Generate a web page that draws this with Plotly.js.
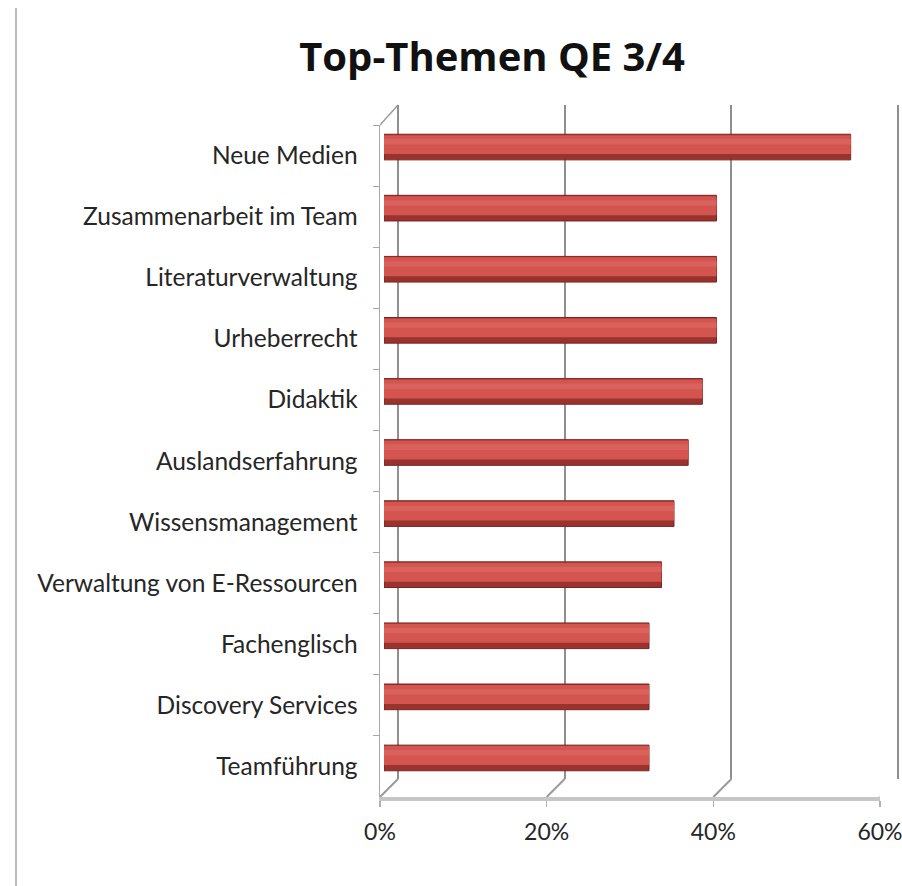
<!DOCTYPE html>
<html>
<head>
<meta charset="utf-8">
<script src="https://cdn.plot.ly/plotly-3.0.1.min.js"></script>
<style>
  html, body { margin: 0; padding: 0; background: #ffffff; }
  #wrap { position: relative; width: 902px; height: 886px; }
  #chart { position: absolute; left: 0; top: 0; width: 902px; height: 886px; }
  #border { position: absolute; left: 15px; top: 8px; width: 2px; height: 878px; background: #bdbdbd; }
</style>
</head>
<body>
<div id="wrap">
  <div id="chart"></div>
  <div id="border"></div>
</div>
<script>
// ---- data ----
const categories = [
  "Neue Medien",
  "Zusammenarbeit im Team",
  "Literaturverwaltung",
  "Urheberrecht",
  "Didaktik",
  "Auslandserfahrung",
  "Wissensmanagement",
  "Verwaltung von E-Ressourcen",
  "Fachenglisch",
  "Discovery Services",
  "Teamführung"
];
const shares = [56.0, 39.9, 39.9, 39.9, 38.2, 36.5, 34.8, 33.3, 31.8, 31.8, 31.8];
const tickValues = [0, 20, 40, 60];
const tickLabels = ["0%", "20%", "40%", "60%"];
const chartTitle = "Top-Themen QE 3/4";

// ---- geometry (pixels) ----
const W = 902, H = 886;
const mL = 380, mR = 0, mT = 105, mB = 89;
const plotW = W - mL - mR;   // 522
const plotH = H - mT - mB;   // 692
const depthX = 18, depthY = 18;
const frontW = 500;
const frontH = 672;
const pxPerUnit = frontW / 60;
const backPad = 0.5;         // range padding of the back wall, in axis units

const textFont = { family: "Lato, 'Open Sans', sans-serif", size: 24.5, color: "#262626" };

const barBase = {
  type: "bar", orientation: "h", x: shares, y: categories,
  hoverinfo: "skip", showlegend: false
};

const traces = [
  // invisible carriers so the front and back axes know their categories
  Object.assign({}, barBase, { xaxis: "x", yaxis: "y", width: 0.4,
    marker: { color: "rgba(0,0,0,0)", line: { width: 0 } } }),
  Object.assign({}, barBase, { xaxis: "x2", yaxis: "y2", width: 0.4,
    marker: { color: "rgba(0,0,0,0)", line: { width: 0 } } }),
  // cylinder-like bars
  Object.assign({}, barBase, { xaxis: "x3", yaxis: "y3",
    width: 0.42,
    marker: { color: "#9a322e", line: { color: "#7a2422", width: 1 } }
  }),
  Object.assign({}, barBase, { xaxis: "x3", yaxis: "y3",
    width: 0.31, offset: -0.195,
    marker: { color: "#d4554f", line: { width: 0 } }
  }),
  Object.assign({}, barBase, { xaxis: "x3", yaxis: "y3",
    width: 0.09, offset: -0.13,
    marker: { color: "#da625d", line: { width: 0 } }
  })
];

// perspective connectors between the front floor ticks and the back wall gridlines
const shapes = tickValues.map(v => ({
  type: "line", layer: "below",
  xref: "x", xsizemode: "pixel", xanchor: v, x0: 0, x1: depthX,
  yref: "paper", ysizemode: "pixel", yanchor: 0, y0: 0, y1: depthY,
  line: { color: "#9a9a9a", width: 2 }
}));
shapes.push({
  type: "line", layer: "below",
  xref: "x", xsizemode: "pixel", xanchor: 0, x0: 0, x1: depthX,
  yref: "paper", ysizemode: "pixel", yanchor: 1, y0: -(plotH - frontH), y1: 0,
  line: { color: "#9a9a9a", width: 1.5 }
});

const backLeft = depthX - backPad * pxPerUnit;

const layout = {
  width: W, height: H,
  margin: { l: mL, r: mR, t: mT, b: mB, pad: 0 },
  paper_bgcolor: "#ffffff",
  plot_bgcolor: "rgba(0,0,0,0)",
  showlegend: false,
  barmode: "overlay",
  title: {
    text: "<b>" + chartTitle + "</b>",
    font: { family: "'Open Sans', Lato, sans-serif", size: 40, color: "#111111" },
    x: 492 / W, xanchor: "center", xref: "container",
    y: 1 - 57 / H, yanchor: "middle", yref: "container"
  },
  // front axes (labels, floor line, left edge)
  xaxis: {
    domain: [0, frontW / plotW], anchor: "y",
    range: [0, 60], tickvals: tickValues, ticktext: tickLabels,
    showline: true, linecolor: "#c6c6c6", linewidth: 4,
    ticks: "outside", ticklen: 6, tickcolor: "#b0b0b0", tickwidth: 1.5,
    ticklabelstandoff: 5, ticklabeloverflow: "allow",
    showgrid: false, zeroline: false,
    tickfont: Object.assign({}, textFont, { size: 23 }), fixedrange: true
  },
  yaxis: {
    domain: [0, frontH / plotH], anchor: "x",
    type: "category", categoryorder: "array", categoryarray: categories,
    autorange: "reversed",
    showline: true, linecolor: "#a8a8a8", linewidth: 1.5,
    ticks: "outside", tickson: "boundaries", ticklen: 6, tickcolor: "#a8a8a8",
    ticklabelstandoff: 16,
    showgrid: false, zeroline: false, tickfont: textFont, fixedrange: true
  },
  // back wall (gridlines)
  xaxis2: {
    domain: [backLeft / plotW, 1], anchor: "y2",
    range: [-backPad, 60 + backPad], tickvals: tickValues,
    showticklabels: false, ticks: "",
    showgrid: true, gridcolor: "#8f8f8f", gridwidth: 2,
    showline: false, zeroline: false, fixedrange: true
  },
  yaxis2: {
    domain: [depthY / plotH, 1], anchor: "x2",
    type: "category", categoryorder: "array", categoryarray: categories,
    autorange: "reversed",
    showticklabels: false, ticks: "", showgrid: false, showline: false,
    zeroline: false, fixedrange: true
  },
  // mid-depth layer carrying the bars
  xaxis3: {
    domain: [4 / plotW, (4 + frontW) / plotW], anchor: "y3",
    range: [0, 60], visible: false, fixedrange: true
  },
  yaxis3: {
    domain: [8.5 / plotH, (frontH + 8.5) / plotH], anchor: "x3",
    type: "category", categoryorder: "array", categoryarray: categories,
    autorange: "reversed", visible: false, fixedrange: true
  },
  shapes: shapes
};

Plotly.newPlot("chart", traces, layout, { displayModeBar: false, staticPlot: true });
</script>
</body>
</html>
